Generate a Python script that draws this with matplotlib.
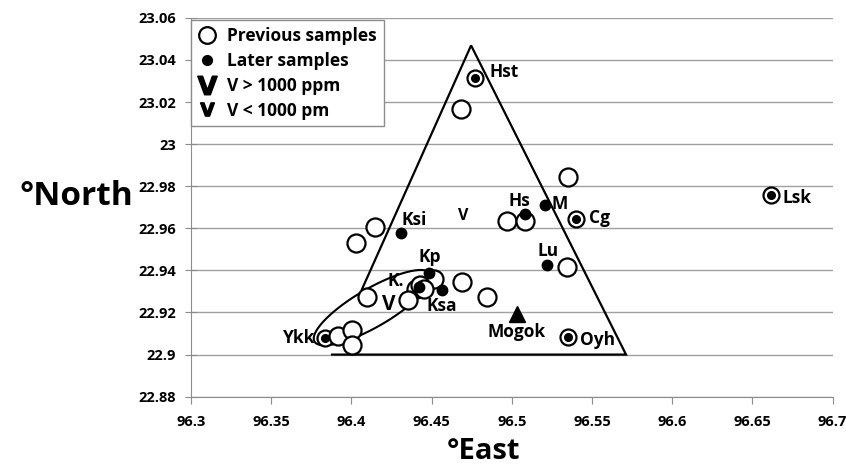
import matplotlib
matplotlib.use("Agg")
import matplotlib.pyplot as plt
from matplotlib.lines import Line2D
import numpy as np

plt.rcParams['font.family'] = ['Open Sans', 'DejaVu Sans']

# previous samples (open circles)
prev_east = [96.477, 96.4683, 96.5352, 96.4147, 96.4029, 96.4968, 96.5082, 96.540,
             96.6614, 96.4515, 96.440, 96.443, 96.445, 96.410, 96.4351, 96.4688,
             96.4843, 96.5342, 96.5352, 96.3835, 96.3916, 96.4004, 96.4004]
prev_north = [23.0315, 23.0168, 22.9844, 22.9606, 22.9531, 22.9635, 22.9635, 22.9646,
              22.9757, 22.9357, 22.931, 22.933, 22.931, 22.9274, 22.9259, 22.9345,
              22.9274, 22.9417, 22.9082, 22.9078, 22.9088, 22.9116, 22.9045]

# later samples (dots)
later_names = ['Hst', 'Ksi', 'Kp', 'K.', 'Ksa', 'Hs', 'M', 'Cg', 'Lu', 'Oyh', 'Ykk', 'Lsk']
later_east = [96.477, 96.4307, 96.4484, 96.442, 96.4567, 96.5082, 96.5207, 96.540,
              96.5222, 96.5352, 96.3835, 96.6614]
later_north = [23.0315, 22.9578, 22.9388, 22.932, 22.9306, 22.9667, 22.9709, 22.9646,
               22.9425, 22.9082, 22.9078, 22.9757]

paired = ['Hst', 'Cg', 'Oyh', 'Ykk', 'Lsk']

mogok = (96.503, 22.9195)

# triangle outline and ellipse ends
tri_east = [96.4066, 96.4746, 96.5712, 96.3879]
tri_north = [22.9311, 23.0469, 22.9, 22.9]
ell_ends = [(96.3786, 22.9069), (96.4478, 22.9377)]

# V concentration marks
v_high = (96.423, 22.924)
v_low = (96.4694, 22.9657)

# label offsets in points, with horizontal alignment
label_offsets = {'Hst': (10.8, 4, 'left'), 'Ksi': (0.7, 9, 'left'), 'Kp': (-7.7, 11.5, 'left'),
                 'K.': (-10.8, 4.3, 'right'), 'Ksa': (-11.2, -11.5, 'left'),
                 'Hs': (-12, 9.6, 'left'), 'M': (4.8, 1.2, 'left'), 'Cg': (9.6, 0.7, 'left'),
                 'Lu': (-7.2, 10.3, 'left'), 'Oyh': (8.4, -1.9, 'left'),
                 'Ykk': (-7.2, 0, 'right'), 'Lsk': (8.6, -1.7, 'left')}

fig = plt.figure(figsize=(8.46, 4.70), dpi=100)
ax = fig.add_axes([0.2258, 0.156, 0.7584, 0.806])
ax.set_xlim(96.3, 96.7)
ax.set_ylim(22.88, 23.06)
ax.set_xticks(np.arange(96.3, 96.701, 0.05))
ax.set_yticks(np.arange(22.88, 23.061, 0.02))
ax.set_xticklabels(['96.3', '96.35', '96.4', '96.45', '96.5', '96.55', '96.6', '96.65', '96.7'])
ax.set_yticklabels(['22.88', '22.9', '22.92', '22.94', '22.96', '22.98', '23', '23.02', '23.04', '23.06'])
ax.grid(axis='y', color='#a0a0a0', lw=1)
ax.set_axisbelow(True)
for s in ['top', 'right']:
    ax.spines[s].set_visible(False)
for s in ['left', 'bottom']:
    ax.spines[s].set_color('#8c8c8c')
ax.tick_params(axis='x', length=5, color='#8c8c8c', labelsize=10.5, pad=8)
ax.tick_params(axis='y', direction='inout', length=8, color='#8c8c8c', labelsize=10.5, pad=7)
for lab in ax.get_xticklabels() + ax.get_yticklabels():
    lab.set_fontweight('bold')

# triangle
ax.plot(tri_east, tri_north, color='black', lw=1.6, solid_joinstyle='miter', zorder=2)

# ellipse drawn in display space so its tilt looks right
p0 = ax.transData.transform(ell_ends[0])
p1 = ax.transData.transform(ell_ends[1])
c = (p0 + p1) / 2
a = np.hypot(*(p1 - p0)) / 2 + 3
b = 19
th = np.arctan2(p1[1] - p0[1], p1[0] - p0[0])
t = np.linspace(0, 2 * np.pi, 200)
pts = np.column_stack([c[0] + a * np.cos(t) * np.cos(th) - b * np.sin(t) * np.sin(th),
                       c[1] + a * np.cos(t) * np.sin(th) + b * np.sin(t) * np.cos(th)])
ell = ax.transData.inverted().transform(pts)
ax.plot(ell[:, 0], ell[:, 1], color='black', lw=1.5, zorder=2)

# previous samples
for x, y in zip(prev_east, prev_north):
    is_pair = any(np.isclose(x, later_east[later_names.index(n)]) and
                  np.isclose(y, later_north[later_names.index(n)]) for n in paired)
    ax.plot(x, y, 'o', ms=11.5 if is_pair else 13, mfc='white', mec='black', mew=1.6, zorder=3)

# later samples
for n, x, y in zip(later_names, later_east, later_north):
    ax.plot(x, y, 'o', ms=5.5 if n in paired else 7.5, color='black', zorder=4)
    dx, dy, ha = label_offsets[n]
    ax.annotate(n, (x, y), xytext=(dx, dy), textcoords='offset points',
                fontsize=12.5, fontweight='bold', va='center', ha=ha, zorder=5)

ax.plot(*mogok, '^', ms=12, color='black', zorder=4)
ax.annotate('Mogok', mogok, xytext=(0, -13.2), textcoords='offset points',
            fontsize=12.5, fontweight='bold', ha='center', va='center')

ax.text(*v_high, 'V', fontsize=15, fontweight='bold', ha='center', va='center')
ax.text(*v_low, 'V', fontsize=11.5, fontweight='bold', ha='center', va='center')

handles = [
    Line2D([], [], marker='o', ls='', ms=12, mfc='white', mec='black', mew=1.6),
    Line2D([], [], marker='o', ls='', ms=7, color='black'),
    Line2D([], [], marker=r'$\mathbf{V}$', ls='', ms=14, color='black'),
    Line2D([], [], marker=r'$\mathbf{V}$', ls='', ms=10, color='black'),
]
labels = ['Previous samples', 'Later samples', 'V > 1000 ppm', 'V < 1000 pm']
leg = ax.legend(handles, labels, loc='upper left', bbox_to_anchor=(0.0, 0.995),
                borderaxespad=0, fancybox=False, framealpha=1, edgecolor='#8c8c8c',
                handlelength=1.0, handletextpad=0.7, labelspacing=0.4, borderpad=0.4,
                prop={'weight': 'bold', 'size': 12.5})
leg.get_frame().set_linewidth(1)

fig.text(0.09, 0.581, '°North', fontsize=24, fontweight='bold', ha='center', va='center')
fig.text(0.572, 0.04, '°East', fontsize=21, fontweight='bold', ha='center', va='center')

fig.savefig('out.png', dpi=100)
